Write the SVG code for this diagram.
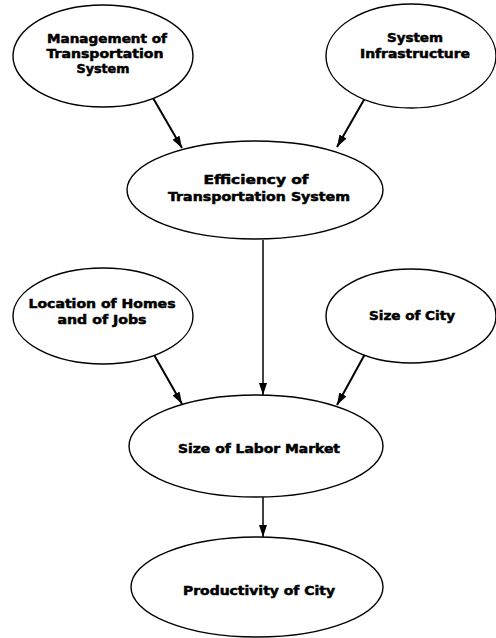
<svg xmlns="http://www.w3.org/2000/svg" width="496" height="638" viewBox="0 0 496 638">
<style>
.node ellipse{fill:#fff;stroke:#000;stroke-width:1.4}
.node text{font-family:"DejaVu Sans","Liberation Sans",sans-serif;font-weight:bold;font-size:12px;fill:#000;stroke:#000;stroke-width:0.5;text-anchor:middle}
.edges line{stroke:#000;stroke-width:2}
</style>
<defs>
<marker id="arr" markerUnits="userSpaceOnUse" markerWidth="13" markerHeight="9" refX="12" refY="4" orient="auto">
<path d="M0,0 L12,4 L0,8 z" fill="#000"/>
</marker>
</defs>
<rect width="496" height="638" fill="#fff"/>
<g id="edges" class="edges">
<line x1="153" y1="98" x2="182" y2="148" marker-end="url(#arr)"/>
<line x1="365" y1="98" x2="337" y2="147" marker-end="url(#arr)"/>
<line x1="263" y1="240" x2="263" y2="395" marker-end="url(#arr)" style="stroke-width:1.5"/>
<line x1="153" y1="353" x2="182" y2="404" marker-end="url(#arr)"/>
<line x1="365" y1="354" x2="337" y2="405" marker-end="url(#arr)"/>
<line x1="263" y1="497" x2="263" y2="537" marker-end="url(#arr)" style="stroke-width:1.5"/>
</g>
<g id="n-management" class="node">
<ellipse cx="103" cy="56" rx="90" ry="51"/>
<text x="107" y="43" textLength="120" lengthAdjust="spacingAndGlyphs">Management of</text>
<text x="105" y="58" textLength="117" lengthAdjust="spacingAndGlyphs">Transportation</text>
<text x="103" y="73" textLength="53" lengthAdjust="spacingAndGlyphs">System</text>
</g>
<g id="n-infrastructure" class="node">
<ellipse cx="411" cy="56" rx="85" ry="52"/>
<text x="415" y="42" textLength="56" lengthAdjust="spacingAndGlyphs">System</text>
<text x="415" y="58" textLength="110" lengthAdjust="spacingAndGlyphs">Infrastructure</text>
</g>
<g id="n-efficiency" class="node">
<ellipse cx="255" cy="190" rx="128" ry="49"/>
<text x="256" y="184" textLength="105" lengthAdjust="spacingAndGlyphs">Efficiency of</text>
<text x="259" y="201" textLength="182" lengthAdjust="spacingAndGlyphs">Transportation System</text>
</g>
<g id="n-location" class="node">
<ellipse cx="103" cy="316" rx="90" ry="48"/>
<text x="102" y="308" textLength="147" lengthAdjust="spacingAndGlyphs">Location of Homes</text>
<text x="102" y="324" textLength="89" lengthAdjust="spacingAndGlyphs">and of Jobs</text>
</g>
<g id="n-sizecity" class="node">
<ellipse cx="411" cy="316" rx="85" ry="47"/>
<text x="412" y="320" textLength="86" lengthAdjust="spacingAndGlyphs">Size of City</text>
</g>
<g id="n-labor" class="node">
<ellipse cx="256" cy="446" rx="127" ry="51"/>
<text x="259" y="453" textLength="162" lengthAdjust="spacingAndGlyphs">Size of Labor Market</text>
</g>
<g id="n-productivity" class="node">
<ellipse cx="257" cy="587" rx="126" ry="50"/>
<text x="259" y="595" textLength="152" lengthAdjust="spacingAndGlyphs">Productivity of City</text>
</g>
</svg>
